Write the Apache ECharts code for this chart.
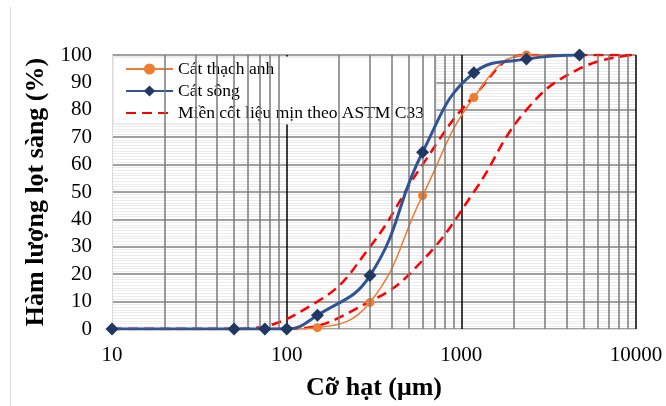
<!DOCTYPE html>
<html>
<head>
<meta charset="utf-8">
<script src="https://cdn.jsdelivr.net/npm/echarts@6/dist/echarts.min.js"></script>
<style>
  html, body { margin: 0; padding: 0; background: #fff; }
  #chart { width: 666px; height: 406px; }
</style>
</head>
<body>
<div id="chart"></div>
<script>
// sieve sizes (um) and percent passing
const songX = [10, 50, 75, 100, 150, 300, 600, 1180, 2360, 4750]
const songY = [0, 0, 0, 0, 5, 19.5, 64.5, 93.5, 98.5, 100]
const thachAnhX = [100, 150, 300, 600, 1180, 2360, 4750]
const thachAnhY = [0, 0.5, 9.7, 48.7, 84.5, 100, 100]
const astmUpperX = [10, 50, 150, 300, 600, 1180, 2360, 4750, 9500]
const astmUpperY = [0, 0, 10, 30, 60, 85, 100, 100, 100]
const astmLowerX = [10, 100, 300, 600, 1180, 2360, 4750, 9500]
const astmLowerY = [0, 0, 10, 25, 50, 80, 95, 100]
// minor vertical gridlines of the log axis
const minorX = [20, 30, 40, 50, 60, 70, 80, 90,
  200, 300, 400, 500, 600, 700, 800, 900,
  2000, 3000, 4000, 5000, 6000, 7000, 8000, 9000]

const nameThachAnh = 'Cát thạch anh'
const nameSong = 'Cát sông'
const nameAstm = 'Miền cốt liệu mịn theo ASTM C33'

const font = "'Liberation Serif', 'Times New Roman', serif"
const zip = (xs, ys) => xs.map((x, i) => [x, ys[i]])

const chart = echarts.init(document.getElementById('chart'))

const option = {
  animation: false,
  textStyle: { fontFamily: font },
  graphic: [{
    type: 'line',
    shape: { x1: 10.5, y1: 7, x2: 10.5, y2: 406 },
    style: { stroke: '#d9d9d9', lineWidth: 1 },
    silent: true
  }],
  grid: { left: 112, right: 30, top: 55, bottom: 74 },
  legend: {
    data: [
      nameThachAnh,
      nameSong,
      { name: nameAstm, itemStyle: { opacity: 0 } }
    ],
    orient: 'vertical',
    left: 113,
    top: 57,
    padding: [3, 12, 2, 12],
    itemGap: 4,
    itemWidth: 47,
    itemHeight: 14,
    backgroundColor: '#fff',
    borderColor: '#d9d9d9',
    borderWidth: 1,
    borderRadius: 0,
    textStyle: { fontFamily: font, fontSize: 17.5, color: '#000' },
    selectedMode: false
  },
  xAxis: {
    type: 'log',
    logBase: 10,
    min: 10,
    max: 10000,
    name: 'Cỡ hạt (μm)',
    nameLocation: 'middle',
    nameGap: 46,
    nameTextStyle: { fontFamily: font, fontSize: 26, fontWeight: 'bold', color: '#000' },
    axisLine: { show: true, lineStyle: { color: '#d9d9d9', width: 1 } },
    axisTick: { show: false },
    axisLabel: {
      margin: 16,
      fontFamily: font,
      fontSize: 21,
      color: '#000',
      formatter: v => String(Math.round(v))
    },
    splitLine: { show: true, showMinLine: false, lineStyle: { color: '#000', width: 1.5 } }
  },
  yAxis: {
    type: 'value',
    min: 0,
    max: 100,
    interval: 10,
    name: 'Hàm lượng lọt sàng (%)',
    nameLocation: 'middle',
    nameGap: 58,
    nameTextStyle: { fontFamily: font, fontSize: 26, fontWeight: 'bold', color: '#000' },
    axisLine: { show: true, lineStyle: { color: '#d9d9d9', width: 1 } },
    axisTick: { show: false },
    axisLabel: { margin: 20, fontFamily: font, fontSize: 21, color: '#000' },
    splitLine: { show: true, lineStyle: { color: '#808080', width: 1.5 } },
    minorTick: { show: false, splitNumber: 10 },
    minorSplitLine: { show: true, lineStyle: { color: '#ececec', width: 1 } }
  },
  series: [
    {
      name: 'grid',
      type: 'line',
      data: [],
      silent: true,
      markLine: {
        silent: true,
        symbol: ['none', 'none'],
        label: { show: false },
        lineStyle: { color: '#7a7a7a', width: 1.5, type: 'solid' },
        emphasis: { disabled: true },
        data: minorX.map(x => ({ xAxis: x }))
      }
    },
    {
      name: nameAstm,
      type: 'line',
      data: zip(astmUpperX, astmUpperY),
      smooth: 0.45,
      symbol: 'none',
      lineStyle: { color: '#ff0000', width: 2.5, type: [10, 6] },
      itemStyle: { color: '#ff0000' },
      z: 3
    },
    {
      name: nameAstm,
      type: 'line',
      data: zip(astmLowerX, astmLowerY),
      smooth: 0.45,
      symbol: 'none',
      lineStyle: { color: '#ff0000', width: 2.5, type: [10, 6] },
      itemStyle: { color: '#ff0000' },
      z: 3
    },
    {
      name: nameThachAnh,
      type: 'line',
      data: zip(thachAnhX, thachAnhY),
      smooth: 0.45,
      symbol: 'circle',
      symbolSize: 9,
      lineStyle: { color: '#ed7d31', width: 1.5 },
      itemStyle: { color: '#ed7d31' },
      z: 4
    },
    {
      name: nameSong,
      type: 'line',
      data: zip(songX, songY),
      smooth: 0.45,
      symbol: 'diamond',
      symbolSize: 13,
      lineStyle: { color: '#2f5597', width: 3 },
      itemStyle: { color: '#1f3864' },
      z: 5
    }
  ]
}

chart.setOption(option)
</script>
</body>
</html>
